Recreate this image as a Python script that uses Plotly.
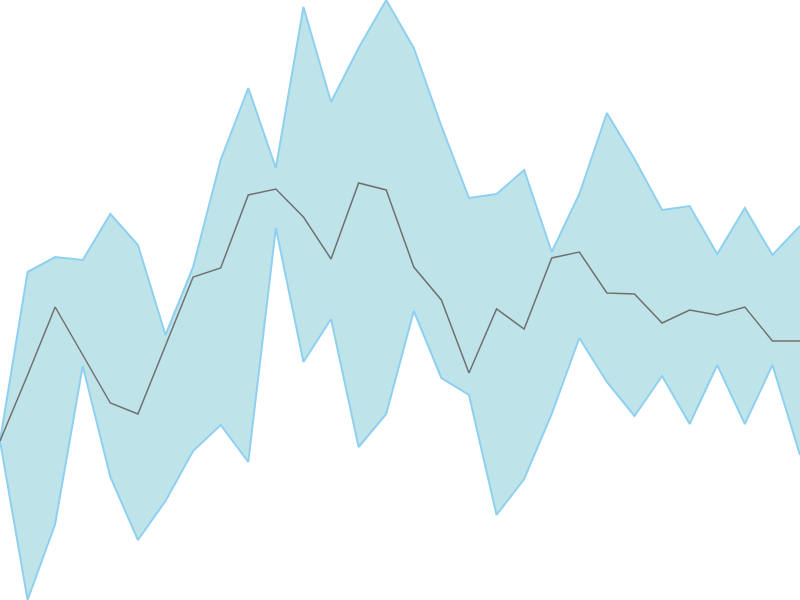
import plotly.graph_objects as go

# values (0 = bottom edge, 600 = top edge)
steps = list(range(30))
upper = [159, 328, 343, 340, 386, 355, 265, 333, 440, 512, 432, 593, 498, 552, 600,
         552, 474, 402, 406, 430, 348, 406, 487, 441, 390, 394, 346, 392, 345, 374]
lower = [159, 0, 76, 234, 123, 60, 99, 149, 175, 138, 372, 238, 281, 153, 186,
         289, 222, 205, 85, 121, 186, 262, 218, 184, 224, 176, 235, 176, 235, 145]
middle = [159, 225, 293, 245, 197, 186, 254, 323, 332, 405, 411, 383, 341, 417, 410,
          333, 300, 227, 291, 271, 342, 348, 307, 306, 277, 290, 285, 293, 259, 259]

band_line = "#8fd0f0"
band_fill = "#bee4e9"

fig = go.Figure()
fig.add_trace(go.Scatter(x=steps, y=lower, mode="lines",
                         line=dict(color=band_line, width=2), showlegend=False))
fig.add_trace(go.Scatter(x=steps, y=upper, mode="lines", fill="tonexty",
                         fillcolor=band_fill,
                         line=dict(color=band_line, width=2), showlegend=False))
fig.add_trace(go.Scatter(x=steps, y=middle, mode="lines",
                         line=dict(color="#707070", width=1.5), showlegend=False))

fig.update_layout(
    width=800, height=600,
    margin=dict(l=0, r=0, t=0, b=0),
    paper_bgcolor="white", plot_bgcolor="white",
    xaxis=dict(range=[0, 29], visible=False),
    yaxis=dict(range=[0, 600], visible=False),
)

# drop the browser's default body margin so the chart fills the window
fig.write_html("out.html", config={"displayModeBar": False},
               post_script="document.body.style.margin='0';")
